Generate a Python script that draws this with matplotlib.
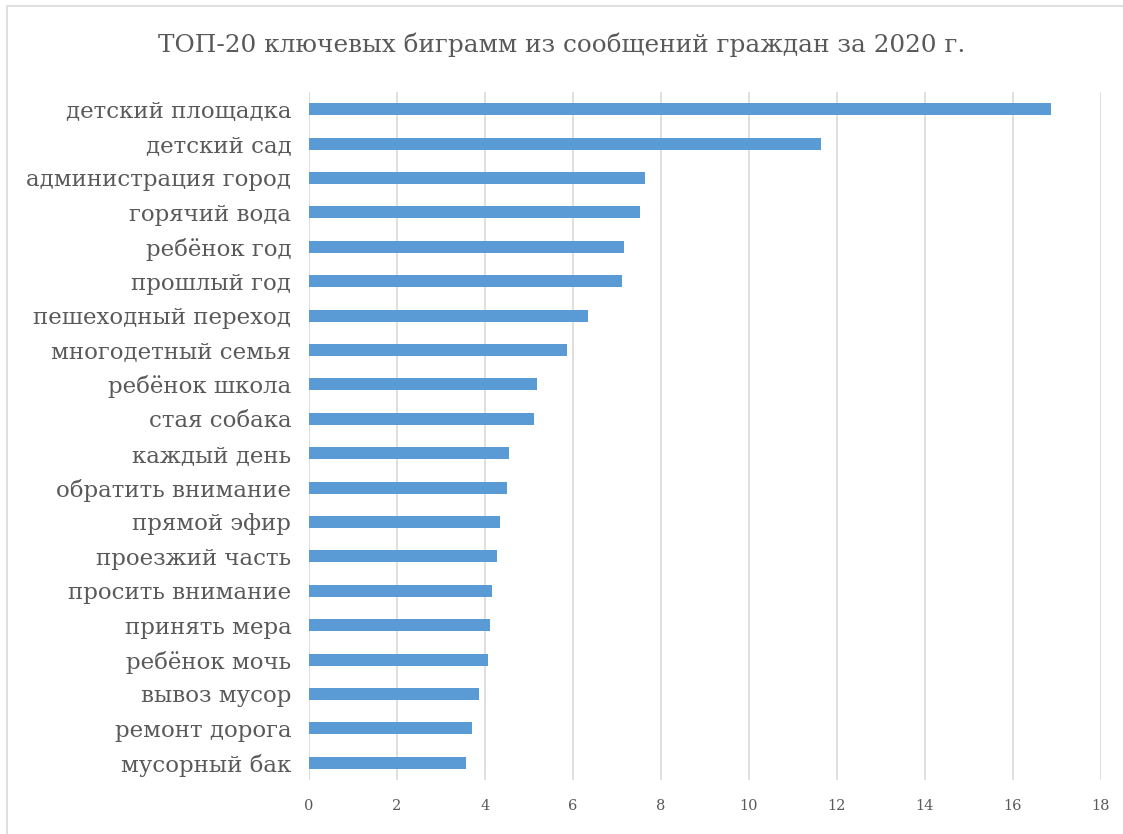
import matplotlib
matplotlib.use('Agg')
import matplotlib.pyplot as plt
from matplotlib.patches import Rectangle

# Биграммы и их частота (сверху вниз)
bigrams = [
    'детский площадка', 'детский сад', 'администрация город', 'горячий вода',
    'ребёнок год', 'прошлый год', 'пешеходный переход', 'многодетный семья',
    'ребёнок школа', 'стая собака', 'каждый день', 'обратить внимание',
    'прямой эфир', 'проезжий часть', 'просить внимание', 'принять мера',
    'ребёнок мочь', 'вывоз мусор', 'ремонт дорога', 'мусорный бак',
]
values = [16.86, 11.64, 7.65, 7.52, 7.16, 7.12, 6.34, 5.86, 5.19, 5.11,
          4.56, 4.51, 4.35, 4.28, 4.16, 4.12, 4.08, 3.88, 3.72, 3.57]
xticks = [0, 2, 4, 6, 8, 10, 12, 14, 16, 18]

title = 'ТОП-20 ключевых биграмм из сообщений граждан за 2020 г.'

plt.rcParams['font.family'] = ['DejaVu Serif']
text_color = '#595959'
bar_color = '#5b9bd5'
grid_color = '#d9d9d9'

fig = plt.figure(figsize=(11.23, 8.34), dpi=100)
ax = fig.add_axes([308.7 / 1123, 1 - 780 / 834, (1101 - 308.7) / 1123, (780 - 92) / 834])

y = list(range(len(bigrams)))
ax.barh(y, values, height=0.35, color=bar_color, zorder=3)
ax.set_ylim(len(bigrams) - 0.5, -0.5)
ax.set_xlim(0, 18)

ax.set_yticks(y)
ax.set_yticklabels(bigrams, fontsize=16.5, color=text_color)
ax.set_xticks(xticks)
ax.set_xticklabels([str(t) for t in xticks], fontsize=10.5, color=text_color)
ax.tick_params(axis='both', length=0)
ax.tick_params(axis='y', pad=12.5)
ax.tick_params(axis='x', pad=14)

ax.grid(axis='x', color=grid_color, linewidth=1.2, zorder=0)
for s in ax.spines.values():
    s.set_visible(False)

fig.text(0.5, 1 - 45 / 834, title, ha='center', va='center',
         fontsize=17.8, color=text_color)

# рамка области диаграммы
frame = Rectangle((6.5 / 1123, -0.05), 1.1, 1 - 5.5 / 834 + 0.05,
                  transform=fig.transFigure, fill=False,
                  edgecolor='#d9d9d9', linewidth=1.2)
fig.patches.append(frame)

fig.savefig('out.png', dpi=100)
